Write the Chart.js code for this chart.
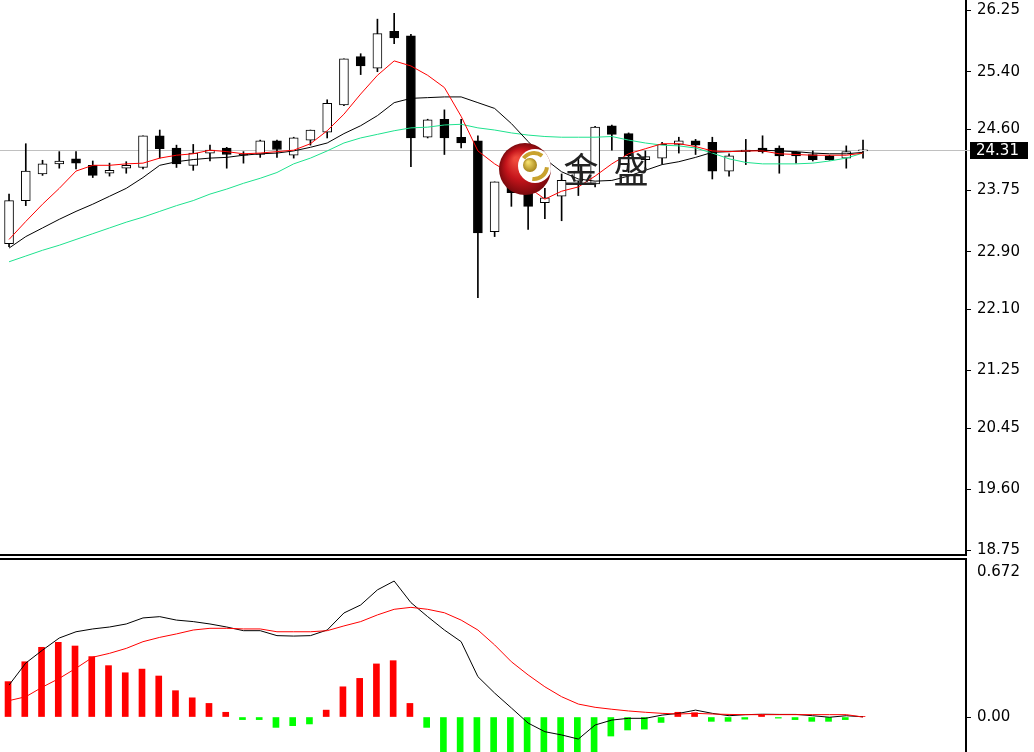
<!DOCTYPE html>
<html>
<head>
<meta charset="utf-8">
<script src="https://cdn.jsdelivr.net/npm/chart.js@4.4.1/dist/chart.umd.min.js"></script>
<style>
  html, body { margin: 0; padding: 0; background: #fff; }
  #prix { position: absolute; left: 0; top: 0; width: 1034px; height: 557px; }
  #macd { position: absolute; left: 0; top: 557px; width: 1034px; height: 195px; }
</style>
</head>
<body>
<div id="prix"><canvas></canvas></div>
<div id="macd"><canvas></canvas></div>
<script>
// bougies
const OPEN  = [23.01, 23.61, 23.98, 24.12, 24.19, 24.10, 23.99, 24.06, 24.07, 24.51, 24.34, 24.10, 24.27, 24.34, 24.25, 24.25, 24.44, 24.24, 24.45, 24.56, 24.94, 25.61, 25.45, 25.96, 25.90, 24.49, 24.74, 24.49, 24.44, 23.18, 23.87, 23.72, 23.58, 23.67, 23.88, 23.84, 24.65, 24.54, 24.18, 24.20, 24.39, 24.44, 24.42, 24.02, 24.29, 24.34, 24.34, 24.28, 24.25, 24.23, 24.20, 24.30];
const HIGH  = [23.70, 24.40, 24.17, 24.29, 24.29, 24.16, 24.13, 24.15, 24.51, 24.59, 24.38, 24.39, 24.38, 24.35, 24.29, 24.45, 24.45, 24.49, 24.59, 25.01, 25.58, 25.65, 26.13, 26.21, 25.92, 24.74, 24.87, 24.74, 24.51, 23.87, 23.95, 23.85, 23.78, 23.98, 24.20, 24.64, 24.66, 24.55, 24.30, 24.42, 24.49, 24.46, 24.49, 24.26, 24.46, 24.51, 24.37, 24.29, 24.30, 24.24, 24.37, 24.45];
const LOW   = [22.97, 23.54, 23.96, 24.06, 24.05, 23.93, 23.95, 23.99, 24.05, 24.20, 24.07, 24.03, 24.16, 24.06, 24.13, 24.21, 24.21, 24.20, 24.38, 24.48, 24.93, 25.36, 25.40, 25.79, 24.08, 24.48, 24.25, 24.34, 22.26, 23.11, 23.53, 23.21, 23.36, 23.33, 23.68, 23.80, 24.31, 24.00, 24.05, 24.12, 24.27, 24.25, 23.91, 23.95, 24.11, 24.27, 23.99, 24.13, 24.16, 24.17, 24.06, 24.20];
const CLOSE = [23.61, 24.02, 24.12, 24.16, 24.13, 23.96, 24.03, 24.10, 24.51, 24.33, 24.12, 24.27, 24.31, 24.25, 24.24, 24.44, 24.32, 24.48, 24.59, 24.96, 25.58, 25.48, 25.93, 25.87, 24.48, 24.73, 24.48, 24.41, 23.16, 23.87, 23.72, 23.53, 23.65, 23.89, 24.02, 24.63, 24.53, 24.23, 24.22, 24.39, 24.44, 24.38, 24.02, 24.23, 24.31, 24.29, 24.23, 24.23, 24.18, 24.18, 24.29, 24.31];

// moyennes mobiles
const MA_RED   = [23.07, 23.32, 23.56, 23.78, 24.02, 24.10, 24.10, 24.12, 24.13, 24.20, 24.24, 24.26, 24.31, 24.29, 24.26, 24.27, 24.29, 24.31, 24.40, 24.58, 24.81, 25.09, 25.35, 25.55, 25.48, 25.35, 25.18, 24.78, 24.30, 24.12, 23.98, 23.80, 23.63, 23.74, 23.80, 23.95, 24.12, 24.26, 24.33, 24.40, 24.40, 24.36, 24.30, 24.29, 24.30, 24.30, 24.26, 24.25, 24.24, 24.24, 24.24, 24.27];
const MA_BLACK = [22.95, 23.11, 23.23, 23.35, 23.46, 23.56, 23.67, 23.78, 23.93, 24.10, 24.15, 24.18, 24.20, 24.21, 24.24, 24.26, 24.27, 24.30, 24.35, 24.41, 24.54, 24.65, 24.79, 24.97, 25.03, 25.04, 25.05, 25.05, 24.97, 24.89, 24.68, 24.43, 24.19, 24.01, 23.91, 23.88, 23.89, 23.95, 24.03, 24.11, 24.15, 24.21, 24.28, 24.29, 24.30, 24.31, 24.30, 24.29, 24.27, 24.26, 24.26, 24.28];
const MA_GREEN = [22.76, 22.84, 22.92, 22.99, 23.07, 23.15, 23.23, 23.31, 23.38, 23.46, 23.54, 23.61, 23.70, 23.77, 23.85, 23.92, 24.00, 24.12, 24.20, 24.30, 24.41, 24.48, 24.53, 24.58, 24.62, 24.63, 24.66, 24.67, 24.62, 24.59, 24.55, 24.52, 24.50, 24.49, 24.49, 24.49, 24.50, 24.45, 24.41, 24.38, 24.37, 24.34, 24.27, 24.19, 24.14, 24.12, 24.12, 24.12, 24.13, 24.16, 24.20, 24.27];

// MACD
const MACD_HIST = [0.164, 0.256, 0.323, 0.346, 0.329, 0.280, 0.238, 0.205, 0.222, 0.190, 0.122, 0.089, 0.063, 0.022, -0.012, -0.012, -0.048, -0.040, -0.032, 0.032, 0.140, 0.179, 0.246, 0.261, 0.063, -0.048, -0.19, -0.20, -0.43, -0.45, -0.43, -0.45, -0.42, -0.35, -0.32, -0.17, -0.088, -0.060, -0.056, -0.025, 0.022, 0.020, -0.020, -0.020, -0.010, 0.008, -0.005, -0.012, -0.020, -0.020, -0.012, 0.003];
const MACD_DIF  = [0.148, 0.250, 0.310, 0.366, 0.395, 0.408, 0.417, 0.431, 0.459, 0.465, 0.449, 0.442, 0.431, 0.417, 0.400, 0.400, 0.377, 0.375, 0.377, 0.403, 0.482, 0.519, 0.589, 0.630, 0.530, 0.465, 0.403, 0.349, 0.187, 0.111, 0.042, -0.028, -0.068, -0.083, -0.102, -0.037, -0.014, -0.006, -0.006, 0.009, 0.017, 0.032, 0.017, 0.006, 0.011, 0.013, 0.012, 0.012, 0.006, -0.001, 0.006, 0.001];
const MACD_DEA  = [0.076, 0.094, 0.139, 0.179, 0.226, 0.277, 0.295, 0.318, 0.349, 0.369, 0.385, 0.403, 0.411, 0.411, 0.408, 0.408, 0.395, 0.395, 0.395, 0.400, 0.422, 0.442, 0.473, 0.499, 0.508, 0.499, 0.483, 0.449, 0.403, 0.334, 0.256, 0.195, 0.140, 0.094, 0.060, 0.045, 0.036, 0.028, 0.022, 0.017, 0.014, 0.017, 0.014, 0.012, 0.011, 0.011, 0.011, 0.011, 0.011, 0.011, 0.011, 0.000];

const PRICE_TICK_LABELS = ['26.25', '25.40', '24.60', '23.75', '22.90', '22.10', '21.25', '20.45', '19.60', '18.75'];
const MACD_TICK_LABELS = ['0.672', '0.00'];
const LAST_PRICE = 24.31;

// bornes des échelles
const X_MIN = -0.54;
const X_MAX = 57.15;
const PRICE_MIN = 18.6875;
const PRICE_MAX = 26.396;
const MACD_MIN = -0.162;
const MACD_MAX = 0.732;

const FONT_AXE = { family: 'DejaVu Sans', size: 15 };

function serie(values) {
  return values.map((v, i) => ({ x: i, y: v }));
}

const corps = OPEN.map((o, i) => ({ x: i, y: [o, CLOSE[i]] }));
const meches = LOW.map((l, i) => ({ x: i, y: [l, HIGH[i]] }));
const couleursCorps = OPEN.map((o, i) => (CLOSE[i] >= o ? '#ffffff' : '#000000'));

function dessinerLogo(ctx) {
  const cx = 525, cy = 169, r = 26;
  ctx.save();
  const g = ctx.createRadialGradient(cx - 9, cy - 10, 2, cx, cy, r);
  g.addColorStop(0, '#ef4a3c');
  g.addColorStop(0.55, '#c4141b');
  g.addColorStop(1, '#7a090d');
  ctx.fillStyle = g;
  ctx.beginPath();
  ctx.arc(cx, cy, r, 0, Math.PI * 2);
  ctx.fill();

  ctx.beginPath();
  ctx.arc(cx, cy, r, 0, Math.PI * 2);
  ctx.clip();
  ctx.fillStyle = '#ffffff';
  ctx.beginPath();
  ctx.arc(cx + 10, cy - 3, 17, 0, Math.PI * 2);
  ctx.fill();

  ctx.strokeStyle = '#c9a22e';
  ctx.lineWidth = 4;
  ctx.beginPath();
  ctx.arc(cx + 9, cy - 3, 13, -2.5, -0.9);
  ctx.stroke();
  ctx.beginPath();
  ctx.arc(cx + 9, cy - 3, 13, 0.1, 1.7);
  ctx.stroke();

  const b = ctx.createRadialGradient(cx + 3, cy - 7, 1, cx + 5, cy - 4, 7);
  b.addColorStop(0, '#f2dc6a');
  b.addColorStop(1, '#a8861c');
  ctx.fillStyle = b;
  ctx.beginPath();
  ctx.arc(cx + 5, cy - 4, 7, 0, Math.PI * 2);
  ctx.fill();
  ctx.restore();

  ctx.save();
  ctx.fillStyle = '#222222';
  ctx.font = '35px "Noto Sans CJK SC"';
  ctx.textAlign = 'center';
  ctx.textBaseline = 'middle';
  ctx.fillText('金', 581, 170);
  ctx.fillText('盛', 631, 170);
  ctx.restore();
}

const decorPrix = {
  id: 'decorPrix',
  beforeDatasetsDraw(chart) {
    const { ctx, chartArea, scales } = chart;
    const y = Math.round(scales.y.getPixelForValue(LAST_PRICE)) + 0.5;
    ctx.save();
    ctx.strokeStyle = '#c0c0c0';
    ctx.lineWidth = 1;
    ctx.beginPath();
    ctx.moveTo(chartArea.left, y);
    ctx.lineTo(chartArea.right + 4, y);
    ctx.stroke();
    ctx.restore();
  },
  afterDatasetsDraw(chart) {
    dessinerLogo(chart.ctx);
  },
  afterDraw(chart) {
    const { ctx, chartArea, scales } = chart;
    const y = Math.round(scales.y.getPixelForValue(LAST_PRICE));
    ctx.save();
    ctx.fillStyle = '#000';
    ctx.fillRect(chartArea.right + 4, y - 8, 58, 17);
    ctx.fillStyle = '#fff';
    ctx.font = '15px "DejaVu Sans"';
    ctx.textBaseline = 'middle';
    ctx.fillText(LAST_PRICE.toFixed(2), chartArea.right + 10, y + 1);
    ctx.restore();
  },
};

// pas de marge automatique autour des étiquettes
function sansMarge(s) {
  s.paddingTop = 0;
  s.paddingBottom = 0;
  s.paddingLeft = 0;
  s.paddingRight = 0;
}

const axeXCache = (position) => ({
  type: 'linear',
  position,
  min: X_MIN,
  max: X_MAX,
  offset: false,
  ticks: { display: false },
  grid: { drawOnChartArea: false, drawTicks: false },
  border: { display: true, color: '#000', width: 2 },
  afterFit: (s) => { s.height = 2; sansMarge(s); },
});

const baseOptions = {
  responsive: true,
  maintainAspectRatio: false,
  animation: false,
  events: [],
  layout: { padding: 0 },
  plugins: { legend: { display: false }, tooltip: { enabled: false } },
};

new Chart(document.querySelector('#prix canvas'), {
  type: 'bar',
  data: {
    datasets: [
      { type: 'line', data: serie(MA_RED), borderColor: '#ff0000', borderWidth: 1, pointRadius: 0, order: 0 },
      { type: 'line', data: serie(MA_BLACK), borderColor: '#000000', borderWidth: 1, pointRadius: 0, order: 0 },
      { type: 'line', data: serie(MA_GREEN), borderColor: '#1ee28e', borderWidth: 1, pointRadius: 0, order: 0 },
      {
        data: corps,
        backgroundColor: couleursCorps,
        borderColor: '#000',
        borderWidth: 1,
        borderSkipped: false,
        barThickness: 9,
        minBarLength: 1,
        grouped: false,
        order: 1,
      },
      { data: meches, backgroundColor: '#000', borderWidth: 0, barThickness: 1, grouped: false, order: 2 },
    ],
  },
  options: {
    ...baseOptions,
    scales: {
      x: axeXCache('bottom'),
      y: {
        position: 'right',
        min: PRICE_MIN,
        max: PRICE_MAX,
        afterBuildTicks: (s) => { s.ticks = PRICE_TICK_LABELS.map((t) => ({ value: parseFloat(t) })); },
        afterFit: (s) => { s.width = 68; sansMarge(s); },
        ticks: { autoSkip: false, padding: 6, color: '#000', font: FONT_AXE, callback: (v, i) => PRICE_TICK_LABELS[i] },
        grid: { drawOnChartArea: false, tickLength: 5, tickColor: '#000', tickWidth: 1 },
        border: { display: true, color: '#000', width: 2 },
      },
    },
  },
  plugins: [decorPrix],
});

new Chart(document.querySelector('#macd canvas'), {
  type: 'bar',
  data: {
    datasets: [
      { type: 'line', data: serie(MACD_DEA), borderColor: '#ff0000', borderWidth: 1, pointRadius: 0, order: 0 },
      { type: 'line', data: serie(MACD_DIF), borderColor: '#000000', borderWidth: 1, pointRadius: 0, order: 0 },
      {
        data: MACD_HIST.map((v, i) => ({ x: i - 0.06, y: v })),
        backgroundColor: MACD_HIST.map((v) => (v >= 0 ? '#ff0000' : '#00ff00')),
        borderWidth: 0,
        barThickness: 6,
        grouped: false,
        order: 1,
      },
    ],
  },
  options: {
    ...baseOptions,
    scales: {
      x: axeXCache('top'),
      y: {
        position: 'right',
        min: MACD_MIN,
        max: MACD_MAX,
        afterBuildTicks: (s) => { s.ticks = MACD_TICK_LABELS.map((t) => ({ value: parseFloat(t) })); },
        afterFit: (s) => { s.width = 68; sansMarge(s); },
        ticks: { autoSkip: false, padding: 6, color: '#000', font: FONT_AXE, callback: (v, i) => MACD_TICK_LABELS[i] },
        grid: {
          drawOnChartArea: false,
          tickLength: 5,
          tickWidth: 1,
          tickColor: (c) => (c.tick && c.tick.value === 0 ? '#000' : 'rgba(0,0,0,0)'),
        },
        border: { display: true, color: '#000', width: 2 },
      },
    },
  },
});
</script>
</body>
</html>
